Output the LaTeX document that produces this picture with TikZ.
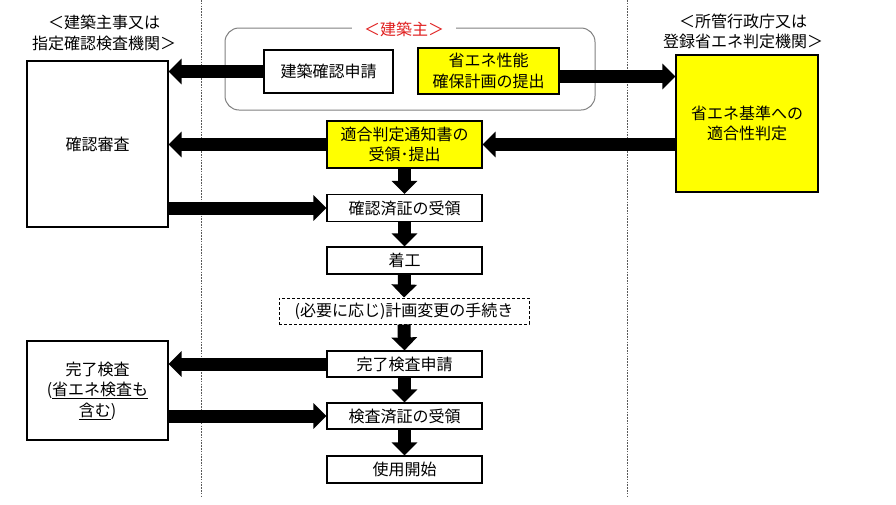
\documentclass[tikz,border=0pt]{standalone}
\usepackage{fontspec}
\setmainfont{Noto Sans CJK JP}
\usetikzlibrary{arrows.meta,calc}
\definecolor{kred}{RGB}{224,32,32}
\definecolor{kyellow}{RGB}{255,255,0}
\begin{document}
\begin{tikzpicture}[x=1pt,y=-1pt,
  every node/.style={font=\fontsize{16pt}{20.5pt}\selectfont, inner sep=0pt, align=center},
  box/.style={draw=black, line width=1.2pt, fill=white, minimum height=27pt},
  ybox/.style={box, fill=kyellow},
  dbox/.style={box, dash pattern=on 3pt off 2pt, line width=1pt},
  fat/.style={line width=13pt, -{Triangle[length=13pt 0 0, width=25pt 0 0]}},
  divider/.style={draw=black!65, line width=0.7pt, dash pattern=on 1.6pt off 1.2pt},
  container/.style={draw=black!50, line width=1pt, rounded corners=14pt}
  ]
\fill[white] (0,0) rectangle (896,504);
\useasboundingbox (0,0) rectangle (896,504);

% dividers
\coordinate (d1t) at (201,0);
\coordinate (d1b) at (201,496);
\coordinate (d2t) at (627,0);
\coordinate (d2b) at (627,496);
\draw[divider] (d1t) -- (d1b);
\draw[divider] (d2t) -- (d2b);

% owner container
\draw[container] (225,28) rectangle (595,110);
\node[fill=white, text=kred, inner xsep=12pt, inner ysep=2pt] (owner) at (404,29) {＜建築主＞};

% headings
\node (lbl1) at (104,33) {＜建築主事又は\\指定確認検査機関＞};
\node (lbl2) at (743,31.5) {＜所管行政庁又は\\登録省エネ判定機関＞};

% boxes
\node[box, minimum width=141pt, minimum height=166pt] (kakunin) at (97.5,144) {確認審査};
\node[box, minimum width=141pt, minimum height=99pt] (kanryo) at (97.5,390.5) {完了検査\\(\underline{省エネ検査も}\\\underline{含む})};
\node[box, minimum width=129pt, minimum height=43pt] (app) at (328.5,71.5) {建築確認申請};
\node[ybox, minimum width=141pt, minimum height=46pt] (shoene) at (488.5,71) {省エネ性能\\確保計画の提出};
\node[ybox, minimum width=155pt, minimum height=47pt] (tekigo) at (404.5,144.5) {適合判定通知書の\\受領･提出};
\node[ybox, minimum width=142pt, minimum height=137pt] (hantei) at (747,123.5) {省エネ基準への\\適合性判定};
\node[box, minimum width=155pt] (zumi) at (404.5,208) {確認済証の受領};
\node[box, minimum width=155pt] (chakko) at (404.5,260.5) {着工};
\node[dbox, minimum width=250pt, minimum height=26pt] (henko) at (404,311) {(必要に応じ)計画変更の手続き};
\node[box, minimum width=155pt, minimum height=26pt] (shinsei) at (404.5,364) {完了検査申請};
\node[box, minimum width=155pt, minimum height=26pt] (kensa) at (404.5,416) {検査済証の受領};
\node[box, minimum width=155pt] (shiyo) at (404.5,469.5) {使用開始};

% horizontal arrows
\draw[fat] (app.west) -- (app.west -| kakunin.east);
\draw[fat] ([yshift=-5.5pt]shoene.east) -- ([yshift=-5.5pt]shoene.east -| hantei.west);
\draw[fat] (tekigo.east -| hantei.west) -- (tekigo.east);
\draw[fat] (tekigo.west) -- (tekigo.west -| kakunin.east);
\draw[fat] (zumi.west -| kakunin.east) -- (zumi.west);
\draw[fat] (shinsei.west) -- (shinsei.west -| kanryo.east);
\draw[fat] (kensa.west -| kanryo.east) -- (kensa.west);

% vertical arrows
\draw[fat] (tekigo.south) -- (zumi.north);
\draw[fat] (zumi.south) -- (chakko.north);
\draw[fat] (chakko.south) -- (henko.north);
\draw[fat] (henko.south) -- (shinsei.north);
\draw[fat] (shinsei.south) -- (kensa.north);
\draw[fat] (kensa.south) -- (shiyo.north);
\end{tikzpicture}
\end{document}
